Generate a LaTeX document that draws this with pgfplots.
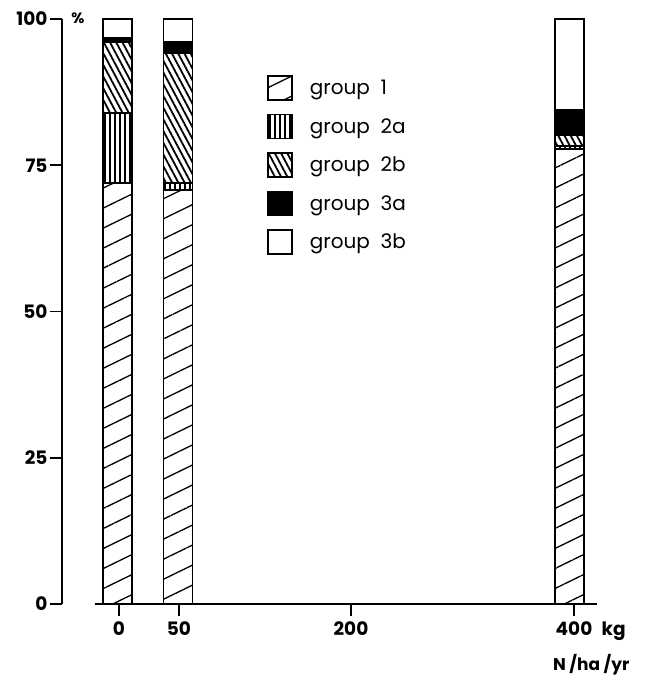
\documentclass[border=0pt]{standalone}
\usepackage{fontspec}
\setmainfont{Poppins}
\usepackage{pgfplots}
\pgfplotsset{compat=1.18}
\usetikzlibrary{patterns.meta}
\begin{document}
\begin{tikzpicture}
\begin{axis}[
  scale only axis,
  width=535pt, height=585pt,
  xmin=62, xmax=597, ymin=0, ymax=100,
  axis x line*=bottom, axis y line*=left,
  x axis line style={draw=none},
  y axis line style={line width=1.6pt},
  tick align=outside,
  major tick length=12pt,
  tick style={line width=1.6pt, black},
  xtick={119,179,351,574},
  xticklabels={0,50,200,{400\rlap{\hspace{0.5em}kg}}},
  ytick={0,25,50,75,100},
  yticklabels={0,25,50,75,100},
  ticklabel style={font=\fontsize{18.5}{21}\selectfont\bfseries},
  yticklabel style={xshift=1pt},
  xticklabel style={yshift=-2pt},
  clip=false,
  ybar stacked,
  bar width=29,
  every axis plot/.append style={draw=black, line width=1.8pt},
  every axis plot post/.append style={legend image code/.code={\draw[##1,line width=1.6pt] (0pt,-12pt) rectangle (24pt,12pt);}},
  legend style={draw=none, fill=none, at={(axis cs:264,90.8)}, anchor=north west,
    font=\fontsize{20}{23}\selectfont, row sep=13pt,
    nodes={inner sep=2pt}},
  legend cell align=left,
]
\addplot[pattern={Lines[angle=26,distance=18pt,line width=1.3pt]}] coordinates {(117.5,72) (178,70.8) (569.5,77.8)};
\addlegendentry{\hspace{15pt}group\ \ 1}
\addplot[pattern={Lines[angle=90,distance=5pt,line width=1.6pt]}] coordinates {(117.5,12) (178,1.1) (569.5,0.5)};
\addlegendentry{\hspace{15pt}group\ \ 2a}
\addplot[pattern={Lines[angle=-62,distance=5.5pt,line width=1.8pt]}] coordinates {(117.5,12.1) (178,22.2) (569.5,1.9)};
\addlegendentry{\hspace{15pt}group\ \ 2b}
\addplot[fill=black] coordinates {(117.5,0.6) (178,2.0) (569.5,4.2)};
\addlegendentry{\hspace{15pt}group\ \ 3a}
\addplot[fill=white] coordinates {(117.5,3.3) (178,3.9) (569.5,15.6)};
\addlegendentry{\hspace{15pt}group\ \ 3b}
\draw[line width=1.6pt] (axis cs:95,0) -- (axis cs:597,0);
\node[font=\fontsize{15}{17}\selectfont\bfseries] at (axis cs:78,100.2) {\%};
\node[anchor=east, font=\fontsize{17}{20}\selectfont\bfseries] at (axis cs:633,-10.4) {N /ha /yr};
\coordinate (bl) at (axis cs:0,-12.82);
\coordinate (tr) at (axis cs:647,103.25);
\end{axis}
\pgfresetboundingbox
\path (bl) rectangle (tr);
\end{tikzpicture}
\end{document}
